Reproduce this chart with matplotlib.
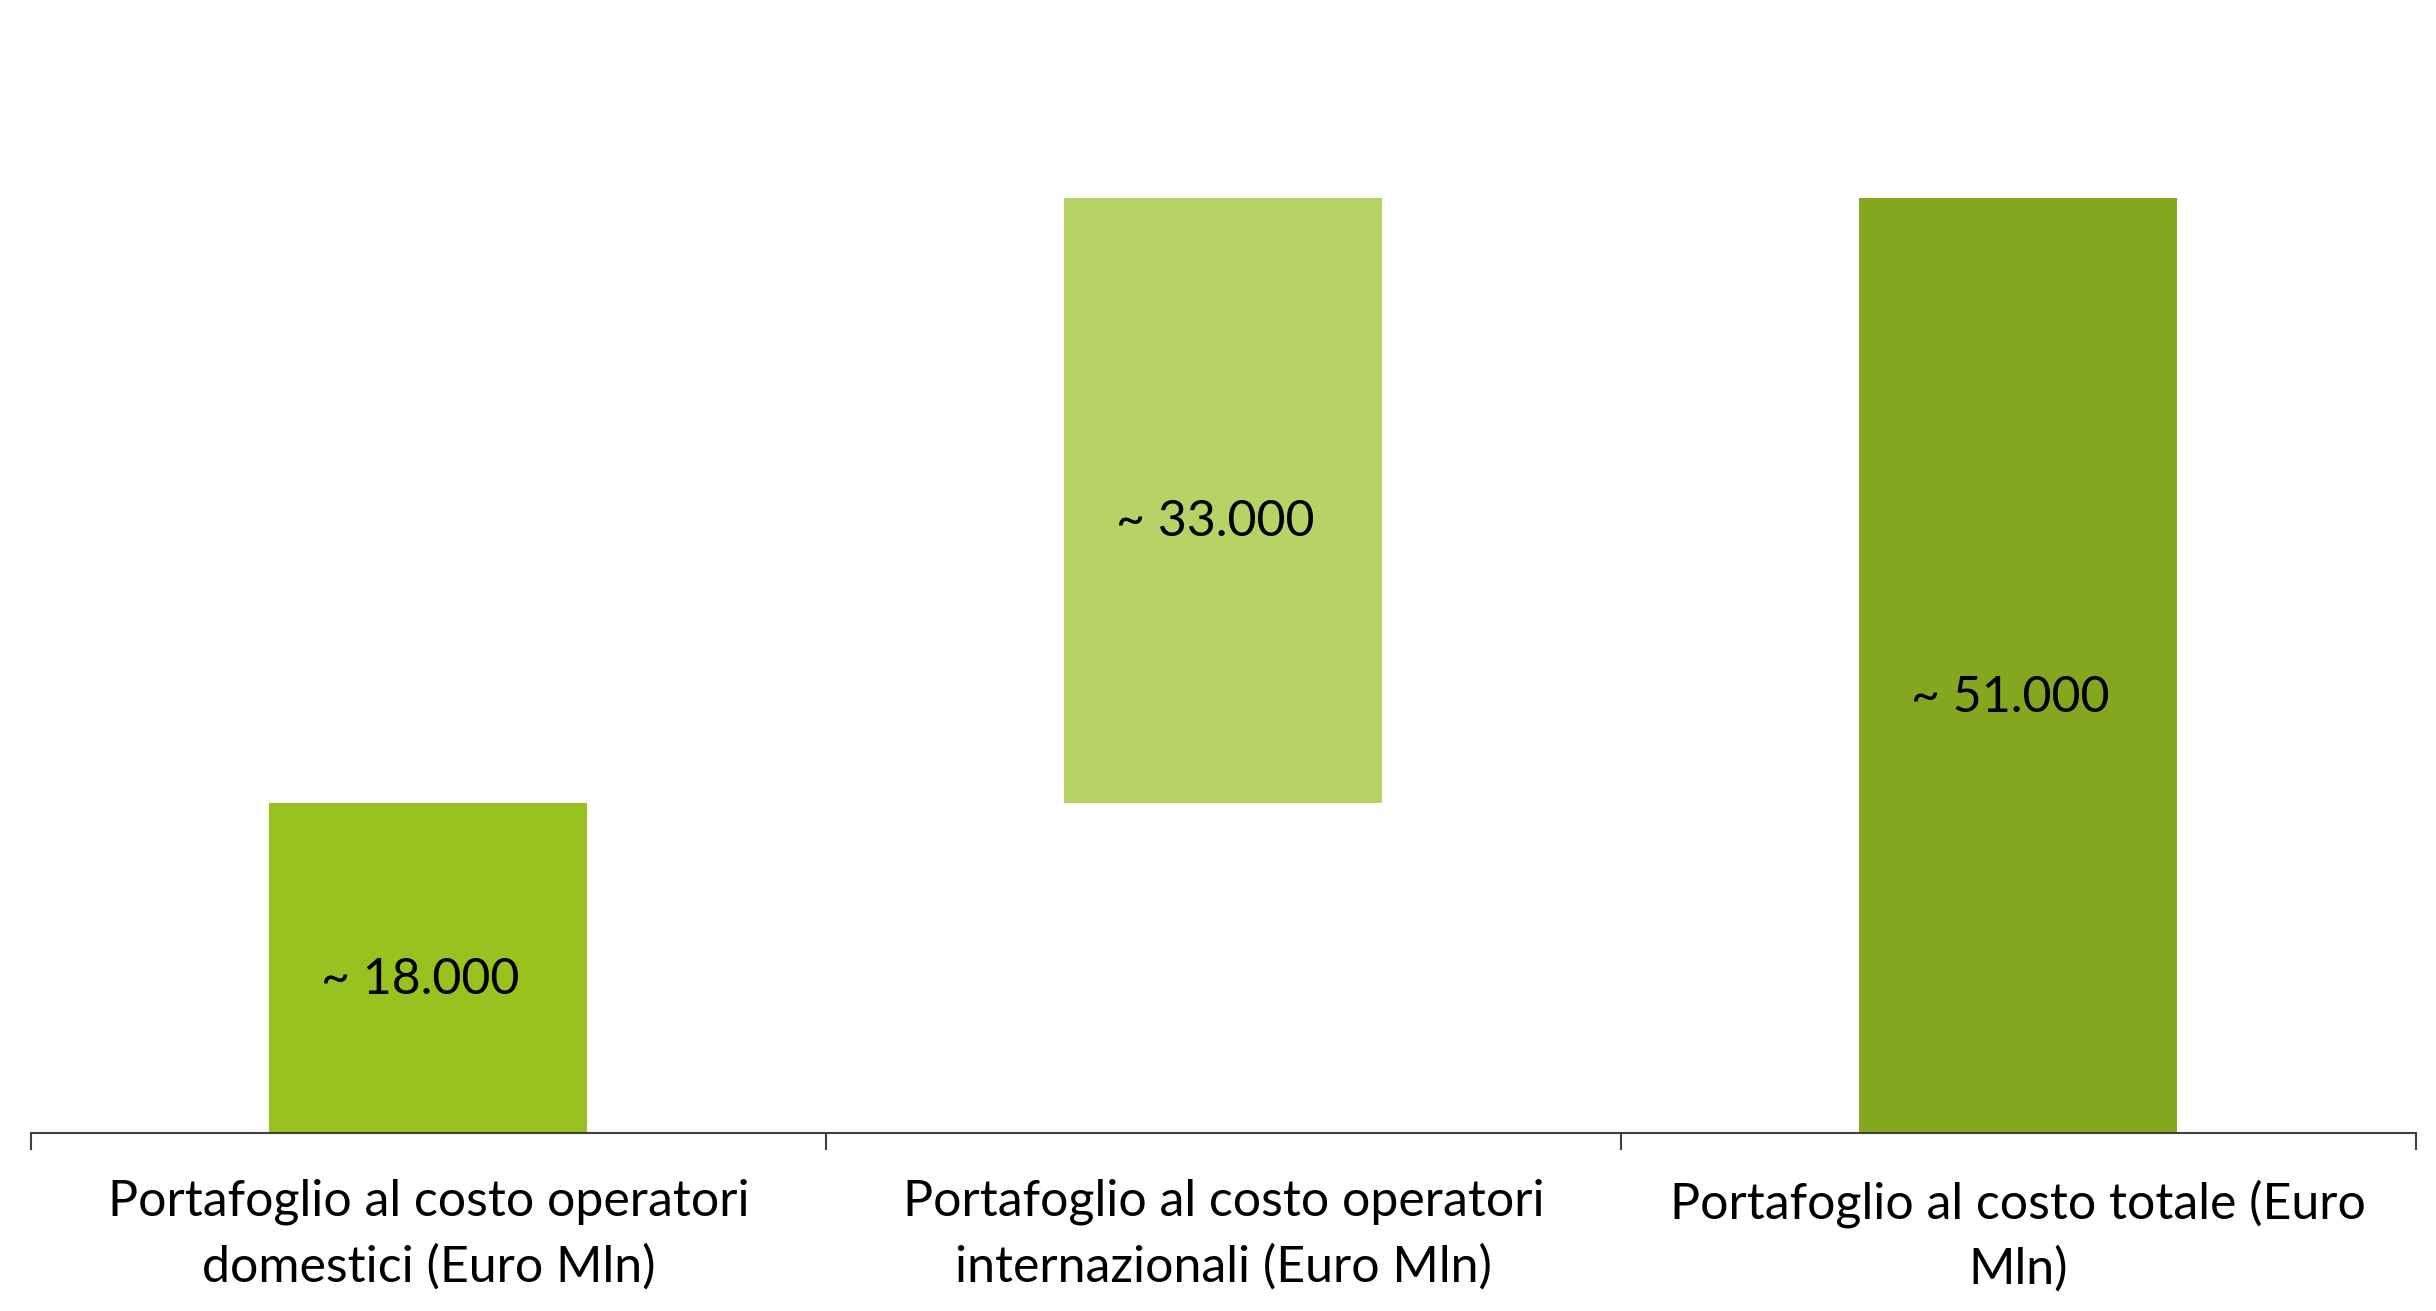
import matplotlib.pyplot as plt

# Dati del grafico a cascata
categorie = [
    "Portafoglio al costo operatori\ndomestici (Euro Mln)",
    "Portafoglio al costo operatori\ninternazionali (Euro Mln)",
    "Portafoglio al costo totale (Euro\nMln)",
]
valori = [18000, 33000, 51000]
tipo = ["parziale", "parziale", "totale"]
colori = ["#98C21F", "#B6D466", "#83A71E"]

plt.rcParams["font.family"] = ["Lato", "DejaVu Sans"]

fig = plt.figure(figsize=(24.36, 13.11), dpi=100)
ax = fig.add_axes([0.0127, 0.1358, 0.979, 0.839])

# Basi della cascata: i parziali si accumulano, il totale parte da zero
basi = []
cumulato = 0
for v, t in zip(valori, tipo):
    if t == "totale":
        basi.append(0)
    else:
        basi.append(cumulato)
        cumulato += v

x = list(range(len(valori)))
ax.bar(x, valori, bottom=basi, width=0.4, color=colori, zorder=2)

# Etichette un po' sotto il centro della barra, come in Excel
for xi, v, b in zip(x, valori, basi):
    etichetta = "~ " + f"{v:,}".replace(",", ".")
    ax.text(xi - 0.01, b + v * 0.465, etichetta, ha="center", va="center",
            fontsize=36, color="black")

ax.set_xlim(-0.5, len(valori) - 0.5)
ax.set_ylim(0, 60000)

for lato in ["top", "right", "left"]:
    ax.spines[lato].set_visible(False)
ax.spines["bottom"].set_color("#404040")
ax.spines["bottom"].set_linewidth(1.5)
ax.set_yticks([])

# Tacche ai confini delle categorie, etichette al centro
ax.set_xticks([i - 0.5 for i in range(len(valori) + 1)])
ax.set_xticklabels([])
ax.tick_params(axis="x", which="major", length=12, width=1.5, color="#404040",
               direction="out")
ax.set_xticks(x, minor=True)
ax.set_xticklabels(categorie, minor=True, fontsize=36, linespacing=1.5)
ax.tick_params(axis="x", which="minor", length=0, pad=33)

fig.savefig("out.png", dpi=100, facecolor="white")
